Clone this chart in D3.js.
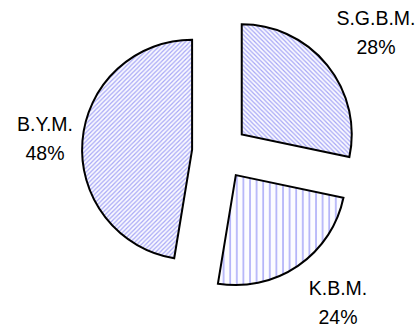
<!DOCTYPE html>
<html>
<head>
<meta charset="utf-8">
<script src="https://cdn.jsdelivr.net/npm/d3@7"></script>
<style>
  body { margin: 0; background: #fff; }
  text { font-family: "Liberation Sans", Arial, sans-serif; fill: #000; }
</style>
</head>
<body>
<div id="chart"></div>
<script>
// slice shares
var names = ["S.G.B.M.", "K.B.M.", "B.Y.M."];
var values = [28.3, 24.3, 47.4];
var percents = ["28%", "24%", "48%"];
var hatches = ["back", "vert", "fwd"];

var WIDTH = 417, HEIGHT = 329;
var CX = 220, CY = 152, RADIUS = 110, EXPLODE = 28;

// where each label block sits, relative to the pie centre (layout only)
var labelSpots = [[156, -127], [118, 143], [-175, -21]];

function hatch(defs, id, size, d, bg) {
    var p = defs.append("pattern").attr("id", id)
        .attr("patternUnits", "userSpaceOnUse")
        .attr("width", size).attr("height", size);
    p.append("rect").attr("width", size).attr("height", size).attr("fill", bg);
    p.append("path").attr("d", d)
        .attr("stroke", "#a6a6f6").attr("stroke-width", 1.2);
}

function createPie(id) {

    var svg = d3.select(id).append("svg")
        .attr("width", WIDTH)
        .attr("height", HEIGHT);

    var defs = svg.append("defs");
    var s = 4.4;

    // diagonal "\" and "/" hatches
    hatch(defs, "back", s, "M-1,-1 L" + (s + 1) + "," + (s + 1) +
        " M-1," + (s - 1) + " L1," + (s + 1) + " M" + (s - 1) + ",-1 L" + (s + 1) + ",1", "#fafaff");
    hatch(defs, "fwd", s, "M-1," + (s + 1) + " L" + (s + 1) + ",-1" +
        " M-1,1 L1,-1 M" + (s - 1) + "," + (s + 1) + " L" + (s + 1) + "," + (s - 1), "#fafaff");

    // vertical hatch
    var p = defs.append("pattern").attr("id", "vert")
        .attr("patternUnits", "userSpaceOnUse")
        .attr("width", 6.6).attr("height", 10);
    p.append("rect").attr("width", 6.6).attr("height", 10).attr("fill", "#fcfcff");
    p.append("line").attr("x1", 1).attr("x2", 1).attr("y1", 0).attr("y2", 10)
        .attr("stroke", "#a8a8f8").attr("stroke-width", 1.5);

    var pie = d3.pie().sort(null).value(function(d) { return d; });
    var arc = d3.arc().innerRadius(0).outerRadius(RADIUS);
    var slices = pie(values);

    var g = svg.append("g").attr("transform", "translate(" + CX + "," + CY + ")");

    g.selectAll(".slice")
        .data(slices)
        .enter().append("path")
        .attr("class", "slice")
        .attr("transform", function(d) {
            var mid = (d.startAngle + d.endAngle) / 2;
            return "translate(" + (Math.sin(mid) * EXPLODE) + "," + (-Math.cos(mid) * EXPLODE) + ")";
        })
        .attr("d", arc)
        .attr("fill", function(d, i) { return "url(#" + hatches[i] + ")"; })
        .attr("stroke", "#000")
        .attr("stroke-width", 2);

    var labels = g.selectAll(".label")
        .data(slices)
        .enter().append("text")
        .attr("class", "label")
        .attr("text-anchor", "middle")
        .attr("font-size", 19.5)
        .attr("x", function(d, i) { return labelSpots[i][0]; })
        .attr("y", function(d, i) { return labelSpots[i][1]; });

    labels.append("tspan")
        .attr("x", function(d, i) { return labelSpots[i][0]; })
        .text(function(d, i) { return names[i]; });
    labels.append("tspan")
        .attr("x", function(d, i) { return labelSpots[i][0]; })
        .attr("dy", 29)
        .text(function(d, i) { return percents[i]; });
}

createPie("#chart");
</script>
</body>
</html>
